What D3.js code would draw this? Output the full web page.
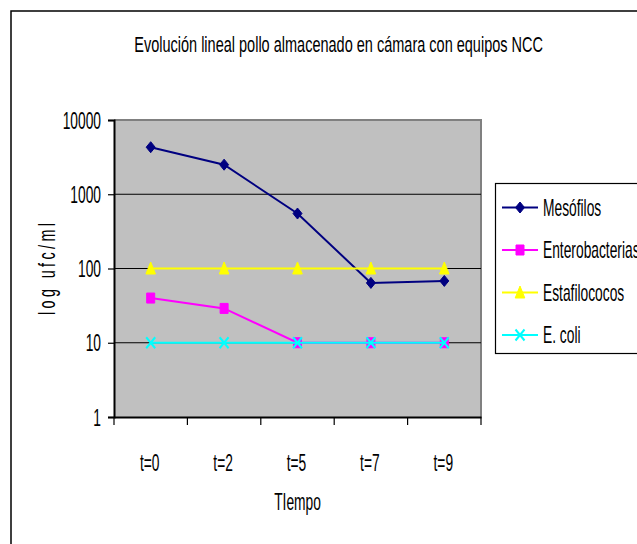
<!DOCTYPE html>
<html><head><meta charset="utf-8">
<script src="https://cdn.jsdelivr.net/npm/d3@7"></script>
<style>
html,body{margin:0;padding:0;background:#fff;}
text{font-family:"Liberation Sans",Arial,sans-serif;fill:#000;}
</style></head>
<body><svg id="c" width="637" height="544"></svg>
<script>
const categories = ["t=0","t=2","t=5","t=7","t=9"];
const mesofilos = [4300, 2500, 550, 64, 68];
const enterobacterias = [40, 29, 10, 10, 10];
const estafilococos = [100, 100, 100, 100, 100];
const ecoli = [10, 10, 10, 10, 10];
const seriesNames = ["Mesófilos","Enterobacterias","Estafilococos","E. coli"];
const yTicks = [1, 10, 100, 1000, 10000];
const yTickLabels = ["1","10","100","1000","10000"];
const title = "Evolución lineal pollo almacenado en cámara con equipos NCC";
const xTitle = "TIempo";
const yTitle = "log ufc/ml";

const series = [
  {name: seriesNames[0], values: mesofilos, color: "#000080", marker: "diamond"},
  {name: seriesNames[1], values: enterobacterias, color: "#FF00FF", marker: "square"},
  {name: seriesNames[2], values: estafilococos, color: "#FFFF00", marker: "triangle"},
  {name: seriesNames[3], values: ecoli, color: "#00FFFF", marker: "x"}
];

const svg = d3.select("#c");
const K = 0.6, FS = 23;
const P = {l:114, r:481, t:120, b:417};

svg.append("rect").attr("width",637).attr("height",544).attr("fill","#fff");
// outer chart border (cropped)
svg.append("rect").attr("x",11).attr("y",11).attr("width",700).attr("height",600)
  .attr("fill","none").attr("stroke","#000").attr("stroke-width",1.5);

const x = d3.scaleBand().domain(categories).range([P.l, P.r]);
const y = d3.scaleLog().domain([1, 10000]).range([P.b, P.t]);

// plot area
svg.append("rect").attr("x",P.l).attr("y",P.t).attr("width",P.r-P.l).attr("height",P.b-P.t)
  .attr("fill","#C0C0C0");
svg.append("path").attr("d",`M${P.l},${P.t}H${P.r}V${P.b}`).attr("fill","none")
  .attr("stroke","#808080").attr("stroke-width",2);
// gridlines
svg.append("g").selectAll("line").data(yTicks.filter(v=>v>1 && v<10000)).join("line")
  .attr("x1",P.l).attr("x2",P.r).attr("y1",d=>y(d)).attr("y2",d=>y(d))
  .attr("stroke","#000").attr("stroke-width",1.2);

// y axis
const ya = svg.append("g").attr("transform",`translate(${P.l},0)`)
  .call(d3.axisLeft(y).tickValues(yTicks).tickSize(6).tickFormat(""));
ya.select(".domain").attr("stroke","#000").attr("stroke-width",2);
ya.selectAll(".tick line").attr("stroke","#000").attr("stroke-width",1.2);
yTicks.forEach((v,i)=>{
  svg.append("text").attr("transform",`translate(101,${y(v)+8.5}) scale(${K},1)`)
    .attr("text-anchor","end").style("font-size",FS+"px").text(yTickLabels[i]);
});

// x axis
const xa = svg.append("g").attr("transform",`translate(0,${P.b})`)
  .call(d3.axisBottom(x).tickSize(0).tickFormat(""));
xa.select(".domain").attr("stroke","#000").attr("stroke-width",2);
const bounds = categories.map(c=>x(c)).concat([x(categories[categories.length-1])+x.bandwidth()]);
svg.append("g").selectAll("line").data(bounds).join("line")
  .attr("x1",d=>d).attr("x2",d=>d).attr("y1",P.b).attr("y2",P.b+8)
  .attr("stroke","#000").attr("stroke-width",1.2);
categories.forEach(c=>{
  svg.append("text").attr("transform",`translate(${x(c)+x.bandwidth()/2-1},471) scale(${K},1)`)
    .attr("text-anchor","middle").style("font-size",FS+"px").text(c);
});

// titles
const tt = svg.append("text").attr("text-anchor","middle").style("font-size","22.5px").text(title);
const tl = tt.node().getComputedTextLength();
tt.attr("transform",`translate(338.6,52) scale(${409/tl},1)`);
svg.append("text").attr("transform",`translate(297.5,510) scale(${K},1)`)
  .attr("text-anchor","middle").style("font-size",FS+"px").text(xTitle);
svg.append("text").attr("text-anchor","middle").style("font-size","24px")
  .attr("textLength",92/K).attr("lengthAdjust","spacing").text(yTitle)
  .attr("transform",`translate(55,269) rotate(-90) scale(${K},1)`);

// markers
function markerPath(type){
  switch(type){
    case "diamond": return "M0,-5.5L4.5,0L0,5.5L-4.5,0Z";
    case "square": return "M-4,-5L4,-5L4,5L-4,5Z";
    case "triangle": return "M0,-6.5L4.8,5.5L-4.8,5.5Z";
    default: return "M-4.5,-5.5L4.5,5.5M4.5,-5.5L-4.5,5.5";
  }
}
function drawMarker(g, s, cx, cy){
  const p = g.append("path").attr("d", markerPath(s.marker)).attr("transform",`translate(${cx},${cy})`);
  if (s.marker === "x") p.attr("fill","none").attr("stroke",s.color).attr("stroke-width",2);
  else p.attr("fill",s.color).attr("stroke",s.color).attr("stroke-width",1);
}

const line = d3.line().x((d,i)=>x(categories[i])+x.bandwidth()/2).y(d=>y(d));
series.forEach(s=>{
  const g = svg.append("g");
  g.append("path").attr("d",line(s.values)).attr("fill","none").attr("stroke",s.color).attr("stroke-width",2);
  s.values.forEach((v,i)=>drawMarker(g, s, x(categories[i])+x.bandwidth()/2, y(v)));
});

// legend
const lg = svg.append("g");
lg.append("rect").attr("x",495.5).attr("y",183.5).attr("width",200).attr("height",170)
  .attr("fill","#fff").attr("stroke","#000").attr("stroke-width",1.2);
const ly = d3.scalePoint().domain(seriesNames).range([207.5, 335]);
series.forEach(s=>{
  const yy = ly(s.name);
  lg.append("line").attr("x1",502).attr("x2",538).attr("y1",yy).attr("y2",yy)
    .attr("stroke",s.color).attr("stroke-width",2);
  drawMarker(lg, s, 520, yy);
  lg.append("text").attr("transform",`translate(543,${yy+8}) scale(${K},1)`)
    .style("font-size",FS+"px").text(s.name);
});
</script></body></html>
